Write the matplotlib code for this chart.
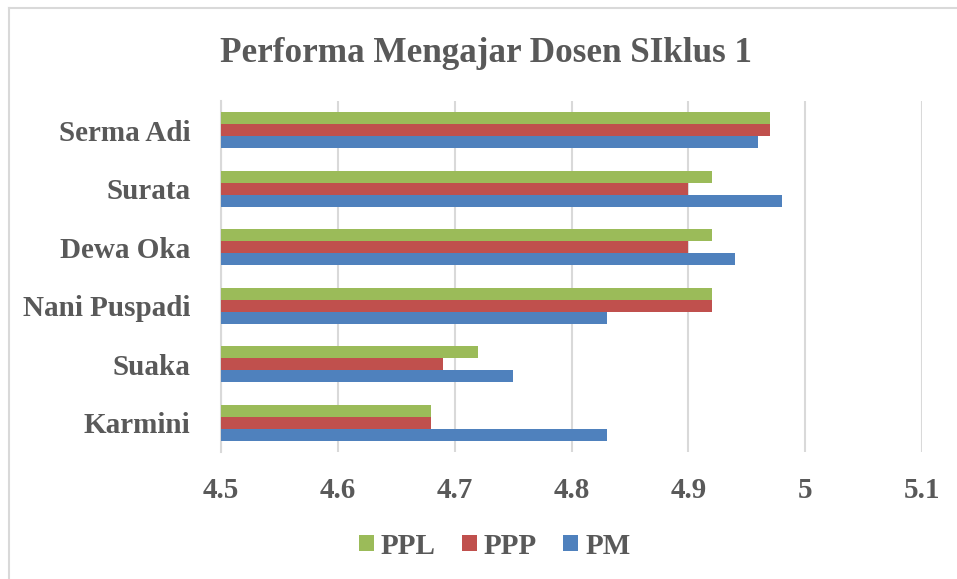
import matplotlib
matplotlib.use("Agg")
import matplotlib.pyplot as plt
import numpy as np
from matplotlib.lines import Line2D

categories = ["Karmini", "Suaka", "Nani Puspadi", "Dewa Oka", "Surata", "Serma Adi"]
ppl = [4.68, 4.72, 4.92, 4.92, 4.92, 4.97]
ppp = [4.68, 4.69, 4.92, 4.90, 4.90, 4.97]
pm = [4.83, 4.75, 4.83, 4.94, 4.98, 4.96]
xticks = [4.5, 4.6, 4.7, 4.8, 4.9, 5.0, 5.1]
xticklabels = ["4.5", "4.6", "4.7", "4.8", "4.9", "5", "5.1"]

plt.rcParams['font.family'] = ['Liberation Serif', 'DejaVu Serif']
plt.rcParams['font.weight'] = 'bold'
txt = '#595959'

fig = plt.figure(figsize=(9.57, 5.79), dpi=100)
ax = fig.add_axes([221/957, 1-452/579, (922-221)/957, (452-101)/579])

y = np.arange(len(categories))
h = 0.205
base = 4.5
ax.barh(y + h, np.array(ppl) - base, left=base, height=h, color='#9BBB59', label='PPL', zorder=3)
ax.barh(y, np.array(ppp) - base, left=base, height=h, color='#C0504D', label='PPP', zorder=3)
ax.barh(y - h, np.array(pm) - base, left=base, height=h, color='#4F81BD', label='PM', zorder=3)

ax.set_xlim(4.5, 5.1)
ax.set_ylim(-0.5, len(categories) - 0.5)
ax.set_xticks(xticks)
ax.set_xticklabels(xticklabels)
ax.set_yticks(y)
ax.set_yticklabels(categories)
ax.tick_params(axis='x', length=0, pad=18, labelsize=21, labelcolor=txt)
ax.tick_params(axis='y', length=0, pad=22, labelsize=21, labelcolor=txt)
for lab in ax.get_xticklabels() + ax.get_yticklabels():
    lab.set_fontweight('bold')
ax.grid(axis='x', color='#D9D9D9', linewidth=1.5, zorder=0)
ax.set_axisbelow(True)
for s in ['top', 'right', 'bottom']:
    ax.spines[s].set_visible(False)
ax.spines['left'].set_color('#D9D9D9')
ax.spines['left'].set_linewidth(1.5)

fig.text(0.508, 1 - 54/579, "Performa Mengajar Dosen SIklus 1", ha='center', va='center',
         fontsize=25.3, fontweight='bold', color=txt)

handles, labels = ax.get_legend_handles_labels()
leg = fig.legend(handles, labels,
                 loc='center', bbox_to_anchor=(0.517, 1 - 546/579), ncol=3, frameon=False,
                 prop={'size': 21, 'weight': 'bold'}, handlelength=0.5, handleheight=0.5,
                 handletextpad=0.25, columnspacing=0.9)
for t in leg.get_texts():
    t.set_color(txt)

fig.add_artist(Line2D([9/957, 1.0], [1 - 8/579, 1 - 8/579], transform=fig.transFigure,
                      color='#D9D9D9', linewidth=1.5))
fig.add_artist(Line2D([9/957, 9/957], [0.0, 1 - 8/579], transform=fig.transFigure,
                      color='#D9D9D9', linewidth=1.5))

fig.savefig("out.png", dpi=100)
